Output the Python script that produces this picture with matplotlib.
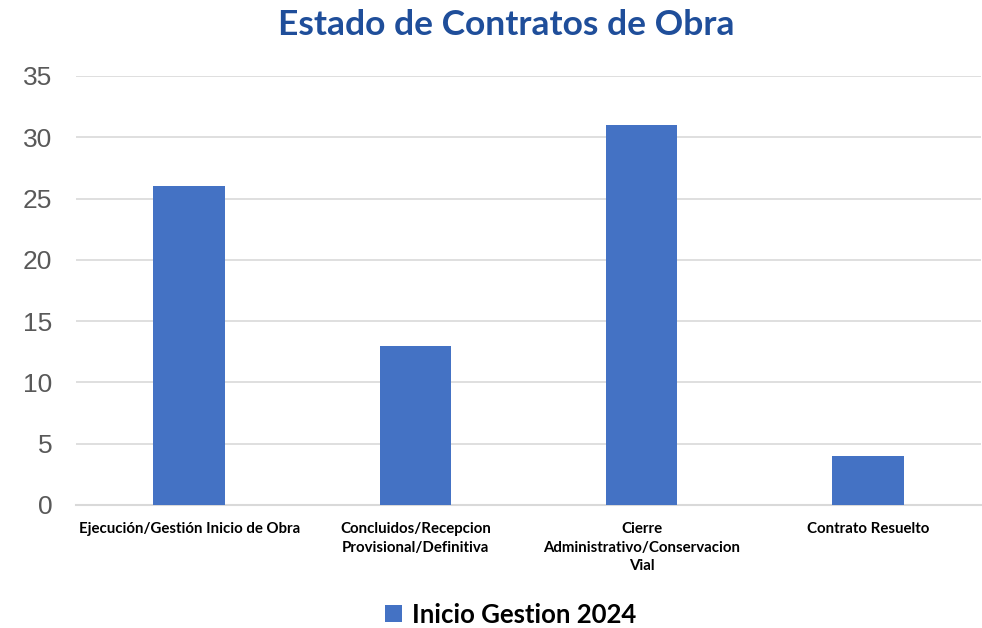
import matplotlib.pyplot as plt
import numpy as np

categorias = ['Ejecución/Gestión Inicio de Obra',
              'Concluidos/Recepcion\nProvisional/Definitiva',
              'Cierre\nAdministrativo/Conservacion\nVial',
              'Contrato Resuelto']
valores = [26, 13, 31, 4]
serie = 'Inicio Gestion 2024'

fig = plt.figure(figsize=(9.82, 6.28), dpi=100)
ax = fig.add_axes([0.0774, 0.196, 0.9216, 0.683])

x = np.arange(len(categorias))
ax.bar(x, valores, 0.315, color='#4472C4', label=serie, zorder=3)

ax.set_xlim(-0.5, len(categorias) - 0.5)
ax.set_ylim(0, 35)
ax.set_yticks(range(0, 36, 5))
ax.yaxis.grid(True, color='#D9D9D9', linewidth=1.2, zorder=0)
for s in ['top', 'right', 'left']:
    ax.spines[s].set_visible(False)
ax.spines['bottom'].set_color('#D9D9D9')
ax.spines['bottom'].set_linewidth(1.5)
ax.tick_params(length=0)
ax.tick_params(axis='y', labelsize=19, labelcolor='#595959', pad=17)
ax.set_xticks(x)
ax.set_xticklabels(categorias, fontsize=10.8, fontweight='bold', family='Lato',
                   linespacing=1.45)
ax.tick_params(axis='x', pad=12)
for t in ax.get_yticklabels():
    t.set_family('Liberation Sans')

fig.text(0.516, 0.985, 'Estado de Contratos de Obra', ha='center', va='top',
         fontsize=25.5, fontweight='bold', color='#1F4E9A', family='Lato')

fig.legend(loc='lower center', bbox_to_anchor=(0.52, -0.035), frameon=False,
           prop={'family': 'Lato', 'weight': 'bold', 'size': 18.5},
           handlelength=0.65, handleheight=0.65, handletextpad=0.4)

plt.savefig('out.png')
